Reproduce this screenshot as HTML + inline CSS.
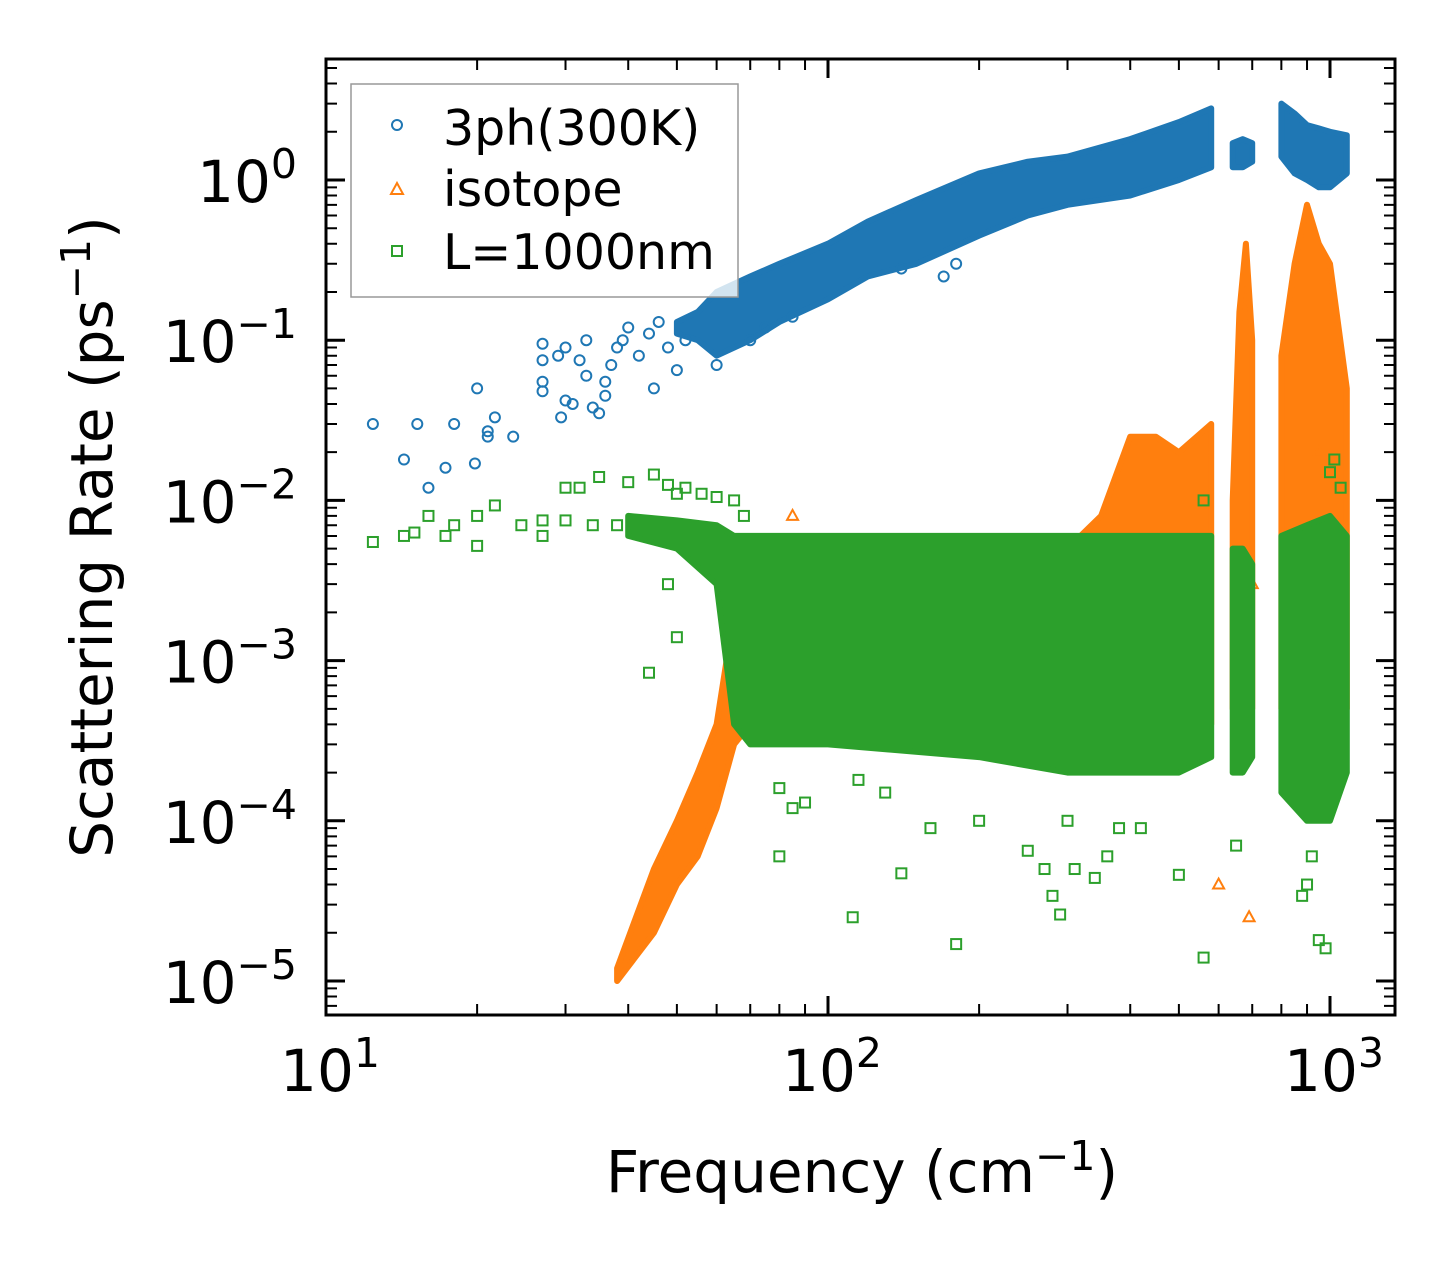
<!DOCTYPE html>
<html><head><meta charset="utf-8">
<style>
html,body{margin:0;padding:0;background:#fff;}
svg{display:block;font-family:"DejaVu Sans","Liberation Sans",sans-serif;}
</style></head>
<body>
<svg id="chart" width="1455" height="1265" viewBox="0 0 1455 1265" xmlns="http://www.w3.org/2000/svg">
<rect width="1455" height="1265" fill="#fff"/>
<defs><clipPath id="clip"><rect x="326" y="59" width="1069" height="956"/></clipPath></defs>
<g id="bands" clip-path="url(#clip)"></g>
<g id="axes"></g>
<g>
 <rect x="351" y="84" width="387" height="213" fill="#fff" fill-opacity="0.8" stroke="#999" stroke-width="1.5"/>
 <circle cx="397" cy="125" r="5" fill="none" stroke="#1f77b4" stroke-width="2"/>
 <text x="443" y="145" font-size="49">3ph(300K)</text>
 <path d="M397,183 L403,194 L391,194 Z" fill="none" stroke="#ff7f0e" stroke-width="2"/>
 <text x="443" y="206" font-size="49">isotope</text>
 <rect x="392" y="246" width="10" height="10" fill="none" stroke="#2ca02c" stroke-width="2"/>
 <text x="443" y="269" font-size="49">L=1000nm</text>
</g>
<text x="862" y="1192" font-size="58" text-anchor="middle">Frequency (cm<tspan dy="-22" font-size="41">−1</tspan><tspan dy="22">)</tspan></text>
<text transform="translate(112,537) rotate(-90)" font-size="58" text-anchor="middle">Scattering Rate (ps<tspan dy="-22" font-size="41">−1</tspan><tspan dy="22">)</tspan></text>
</svg>
<script>
// ---- data ----
const blueBandF  = [50,55,60,70,80,100,120,150,200,250,300,400,500,580];
const blueBandLo = [0.11,0.10,0.08,0.10,0.13,0.18,0.25,0.30,0.45,0.60,0.70,0.80,1.0,1.2];
const blueBandHi = [0.13,0.15,0.20,0.25,0.30,0.40,0.55,0.75,1.1,1.3,1.4,1.8,2.3,2.8];
const blueBand2F = [640,670,700];
const blueBand2Lo = [1.2,1.2,1.3];
const blueBand2Hi = [1.7,1.8,1.7];
const blueBand3F = [800,850,900,950,1000,1080];
const blueBand3Lo = [1.4,1.1,1.0,0.9,0.9,1.1];
const blueBand3Hi = [3.0,2.6,2.2,2.1,2.0,1.9];
const bluePtsF = [12.4,14.3,15.2,16,17.3,18,19.8,20,21,21,21.7,23.6,27,27,27,27,29,29.4,30,30,31,32,33,33,34,35,36,36,37,38,39,40,42,44,45,46,48,50,52,60,70,75,85,140,170,180];
const bluePtsY = [0.03,0.018,0.03,0.012,0.016,0.03,0.017,0.05,0.025,0.027,0.033,0.025,0.048,0.055,0.095,0.075,0.08,0.033,0.042,0.09,0.04,0.075,0.1,0.06,0.038,0.035,0.045,0.055,0.07,0.09,0.1,0.12,0.08,0.11,0.05,0.13,0.09,0.065,0.1,0.07,0.1,0.12,0.14,0.28,0.25,0.3];

const orBandF  = [38,45,50,55,60,65,70,80,100,150,200,300,350,400,450,500,580];
const orBandLo = [1e-5,2e-5,4e-5,6e-5,1.2e-4,3e-4,4e-4,4e-4,4e-4,4e-4,3e-4,4e-4,5e-4,6e-4,6e-4,5e-4,4e-4];
const orBandHi = [1.2e-5,5e-5,1e-4,2e-4,4e-4,2e-3,3e-3,5e-3,4e-3,4e-3,4e-3,5e-3,8e-3,2.5e-2,2.5e-2,2e-2,3e-2];
const orBand2F  = [640,660,680,700];
const orBand2Lo = [5e-4,5e-4,5e-4,5e-4];
const orBand2Hi = [1e-2,0.15,0.4,0.1];
const orBand3F  = [800,850,900,950,1000,1080];
const orBand3Lo = [5e-4,5e-4,5e-4,5e-4,5e-4,5e-4];
const orBand3Hi = [0.08,0.3,0.7,0.4,0.3,0.05];
const orPtsF = [85,600,690,700,950,1050];
const orPtsY = [8e-3,4e-5,2.5e-5,3e-3,2e-2,5e-3];

const grBandF  = [40,50,60,65,70,100,200,300,400,500,580];
const grBandLo = [6e-3,5e-3,3e-3,4e-4,3e-4,3e-4,2.5e-4,2e-4,2e-4,2e-4,2.5e-4];
const grBandHi = [8e-3,7.5e-3,7e-3,6e-3,6e-3,6e-3,6e-3,6e-3,6e-3,6e-3,6e-3];
const grBand2F  = [640,670,700];
const grBand2Lo = [2e-4,2e-4,2.5e-4];
const grBand2Hi = [5e-3,5e-3,4e-3];
const grBand3F  = [800,900,1000,1080];
const grBand3Lo = [1.5e-4,1e-4,1e-4,2e-4];
const grBand3Hi = [6e-3,7e-3,8e-3,6e-3];
const grPtsF = [12.4,14.3,15,16,17.3,18,20,20,21.7,24.5,27,27,30,32,35,38,40,45,48,48,50,52,56,60,65,68,80,80,85,90,112,115,130,140,160,180,200,250,270,280,290,300,310,340,360,380,420,500,560,560,650,880,900,920,950,980,1000,1020,1050,50,44,30,34];
const grPtsY = [5.5e-3,6e-3,6.3e-3,8e-3,6e-3,7e-3,5.2e-3,8e-3,9.3e-3,7e-3,6e-3,7.5e-3,1.2e-2,1.2e-2,1.4e-2,7e-3,1.3e-2,1.45e-2,1.25e-2,3e-3,1.4e-3,1.2e-2,1.1e-2,1.05e-2,1e-2,8e-3,6e-5,1.6e-4,1.2e-4,1.3e-4,2.5e-5,1.8e-4,1.5e-4,4.7e-5,9e-5,1.7e-5,1e-4,6.5e-5,5e-5,3.4e-5,2.6e-5,1e-4,5e-5,4.4e-5,6e-5,9e-5,9e-5,4.6e-5,1.4e-5,1e-2,7e-5,3.4e-5,4e-5,6e-5,1.8e-5,1.6e-5,1.5e-2,1.8e-2,1.2e-2,1.1e-2,8.4e-4,7.5e-3,7e-3];
const xTickLabels = ["1","2","3"];
const yTickLabels = ["0","−1","−2","−3","−4","−5"];

// ---- axis functions ----
const X0=326,X1=1395,Y0=59,Y1=1015;
const xs=f=>326+502*(Math.log10(f)-1);
const ys=v=>180-160.2*Math.log10(v);
const NS="http://www.w3.org/2000/svg";
function mk(tag,attrs,parent){const e=document.createElementNS(NS,tag);for(const k in attrs)e.setAttribute(k,attrs[k]);parent.appendChild(e);return e;}
const bands=document.getElementById('bands');
const axes=document.getElementById('axes');

function band(F,Lo,Hi,color,name){
  let d="M"+F.map((f,i)=>xs(f).toFixed(1)+","+ys(Hi[i]).toFixed(1)).join(" L");
  for(let i=F.length-1;i>=0;i--) d+=" L"+xs(F[i]).toFixed(1)+","+ys(Lo[i]).toFixed(1);
  d+=" Z";
  const p=mk('path',{d:d,fill:color,stroke:color,'stroke-width':6,'stroke-linejoin':'round'},bands);
  
  
}
function pts(F,Y,shape,color,name){
  const g=mk('g',{fill:'none',stroke:color,'stroke-width':2},bands);
  
  
  F.forEach((f,i)=>{
    const x=xs(f),y=ys(Y[i]);let e;
    if(shape==='c') e=mk('circle',{cx:x,cy:y,r:5},g);
    else if(shape==='t') e=mk('path',{d:`M${x},${y-6} L${x+5.5},${y+4} L${x-5.5},${y+4} Z`},g);
    else e=mk('rect',{x:x-5,y:y-5,width:10,height:10},g);
    
    
  });
}
band(blueBandF,blueBandLo,blueBandHi,'#1f77b4','band-3ph-acoustic');
band(blueBand2F,blueBand2Lo,blueBand2Hi,'#1f77b4','band-3ph-mid');
band(blueBand3F,blueBand3Lo,blueBand3Hi,'#1f77b4','band-3ph-optical');
pts(bluePtsF,bluePtsY,'c','#1f77b4','points-3ph');
band(orBandF,orBandLo,orBandHi,'#ff7f0e','band-isotope-acoustic');
band(orBand2F,orBand2Lo,orBand2Hi,'#ff7f0e','band-isotope-mid');
band(orBand3F,orBand3Lo,orBand3Hi,'#ff7f0e','band-isotope-optical');
pts(orPtsF,orPtsY,'t','#ff7f0e','points-isotope');
band(grBandF,grBandLo,grBandHi,'#2ca02c','band-boundary-acoustic');
band(grBand2F,grBand2Lo,grBand2Hi,'#2ca02c','band-boundary-mid');
band(grBand3F,grBand3Lo,grBand3Hi,'#2ca02c','band-boundary-optical');
pts(grPtsF,grPtsY,'s','#2ca02c','points-boundary');

const fr=mk('rect',{x:X0,y:Y0,width:X1-X0,height:Y1-Y0,fill:'none',stroke:'#000','stroke-width':3},axes);


for(let d=1;d<=3;d++){for(let m=1;m<=9;m++){
  const f=m*Math.pow(10,d);const x=xs(f);if(x<X0-0.5||x>X1)continue;
  const L=m===1?19:11;
  const t=mk('path',{d:`M${x},${Y1} V${Y1-L} M${x},${Y0} V${Y0+L}`,stroke:'#000','stroke-width':m===1?3:2},axes);
  
  
}}
xTickLabels.forEach((s,i)=>{
  const tx=mk('text',{x:xs(Math.pow(10,i+1))+4,y:1091,'font-size':58,'text-anchor':'middle'},axes);
  
  
  tx.innerHTML='10<tspan dy="-24" font-size="41">'+s+'</tspan>';
});
for(let d=-6;d<=0;d++){for(let m=1;m<=9;m++){
  const v=m*Math.pow(10,d);const y=ys(v);if(y<Y0||y>Y1)continue;
  const L=m===1?19:11;
  const t=mk('path',{d:`M${X0},${y} H${X0+L} M${X1},${y} H${X1-L}`,stroke:'#000','stroke-width':m===1?3:2},axes);
  
  
}}
yTickLabels.forEach((s,i)=>{
  const ty=mk('text',{x:297,y:ys(Math.pow(10,-i))+22,'font-size':58,'text-anchor':'end'},axes);
  
  
  ty.innerHTML='10<tspan dy="-24" font-size="41">'+s+'</tspan>';
});
</script>
</body></html>
